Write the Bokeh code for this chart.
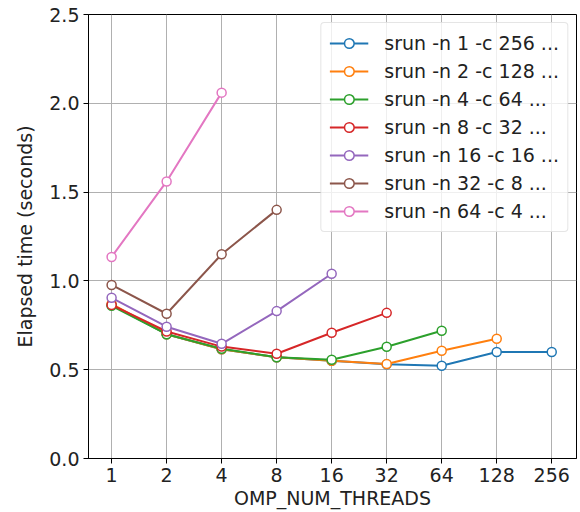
from bokeh.plotting import figure
from bokeh.models import FixedTicker, PrintfTickFormatter, Range1d, Legend
from bokeh.embed import file_html
from bokeh.resources import INLINE

threads = [1, 2, 4, 8, 16, 32, 64, 128, 256]
tick_labels = ["1", "2", "4", "8", "16", "32", "64", "128", "256"]

labels = [
    "srun -n 1 -c 256 ...",
    "srun -n 2 -c 128 ...",
    "srun -n 4 -c 64 ...",
    "srun -n 8 -c 32 ...",
    "srun -n 16 -c 16 ...",
    "srun -n 32 -c 8 ...",
    "srun -n 64 -c 4 ...",
]
colors = ["#1f77b4", "#ff7f0e", "#2ca02c", "#d62728", "#9467bd", "#8c564b", "#e377c2"]

t_n1 = [0.865, 0.700, 0.615, 0.570, 0.550, 0.530, 0.522, 0.600, 0.600]
t_n2 = [0.870, 0.700, 0.615, 0.570, 0.550, 0.532, 0.607, 0.674]
t_n4 = [0.860, 0.700, 0.618, 0.570, 0.556, 0.629, 0.719]
t_n8 = [0.865, 0.715, 0.630, 0.590, 0.708, 0.820]
t_n16 = [0.905, 0.742, 0.646, 0.830, 1.040]
t_n32 = [0.977, 0.815, 1.150, 1.400]
t_n64 = [1.135, 1.560, 2.060]

series = [t_n1, t_n2, t_n4, t_n8, t_n16, t_n32, t_n64]

FONT = "DejaVu Sans"
FS = "19px"

p = figure(
    frame_width=488, frame_height=444,
    min_border_left=88, min_border_right=4, min_border_top=14, min_border_bottom=40,
    x_axis_type="log",
    x_range=Range1d(2 ** -0.42, 2 ** 8.45),
    y_range=Range1d(0, 2.5),
    output_backend="svg", toolbar_location=None,
)
p.background_fill_color = "white"
p.border_fill_color = "white"
p.outline_line_color = "black"
p.outline_line_width = 1

for vals, lab, col in zip(series, labels, colors):
    xs = threads[:len(vals)]
    p.line(xs, vals, line_color=col, line_width=2, legend_label=lab)
    p.scatter(xs, vals, marker="circle", size=9, fill_color="white",
              line_color=col, line_width=1.5, legend_label=lab)

xt = FixedTicker(ticks=threads)
p.xaxis.ticker = xt
p.xgrid.ticker = xt
p.xaxis.major_label_overrides = {t: s for t, s in zip(threads, tick_labels)}
yt = FixedTicker(ticks=[0.0, 0.5, 1.0, 1.5, 2.0, 2.5])
p.yaxis.ticker = yt
p.ygrid.ticker = yt
p.yaxis.formatter = PrintfTickFormatter(format="%.1f")

for ax in (p.xaxis[0], p.yaxis[0]):
    ax.minor_tick_line_color = None
    ax.major_tick_out = 5
    ax.major_tick_in = 0
    ax.axis_line_color = "black"
    ax.major_tick_line_color = "black"
    ax.major_label_text_font = FONT
    ax.major_label_text_font_size = FS
    ax.major_label_text_color = "#222222"
    ax.axis_label_text_font = FONT
    ax.axis_label_text_font_size = FS
    ax.axis_label_text_font_style = "normal"
    ax.axis_label_text_color = "#222222"

p.xaxis.axis_label = "OMP_NUM_THREADS"
p.yaxis.axis_label = "Elapsed time (seconds)"
p.xaxis.major_label_standoff = 4
p.xaxis.axis_label_standoff = 2
p.yaxis.major_label_standoff = 4
p.yaxis.axis_label_standoff = 10

for g in (p.xgrid[0], p.ygrid[0]):
    g.grid_line_color = "#b0b0b0"
    g.grid_line_width = 1

lg = p.legend[0]
lg.location = "top_right"
lg.margin = 8
lg.padding = 8
lg.spacing = 4
lg.glyph_width = 39
lg.glyph_height = 24
lg.label_height = 24
lg.label_standoff = 16
lg.label_text_font = FONT
lg.label_text_font_size = FS
lg.label_text_color = "#222222"
lg.background_fill_color = "white"
lg.background_fill_alpha = 0.8
lg.border_line_color = "#cccccc"
lg.border_line_width = 1
if "border_radius" in Legend.properties():
    lg.border_radius = 4

open("out.html", "w").write(file_html(p, INLINE))
